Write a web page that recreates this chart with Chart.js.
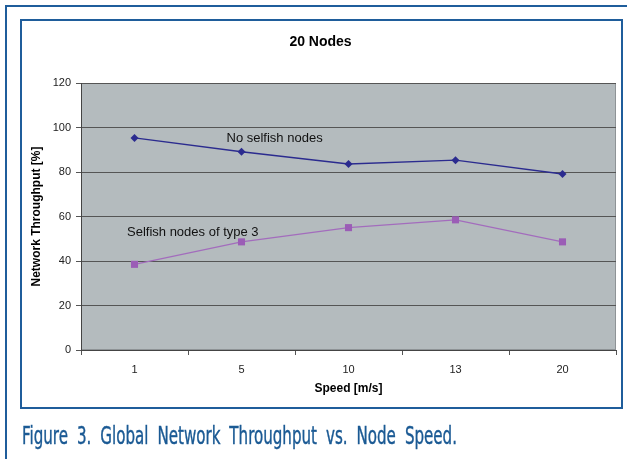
<!DOCTYPE html>
<html>
<head>
<meta charset="utf-8">
<script src="https://cdn.jsdelivr.net/npm/chart.js@4/dist/chart.umd.min.js"></script>
<style>
  html, body { margin: 0; padding: 0; background: #fff; }
  body { width: 627px; height: 459px; position: relative; overflow: hidden; }
  #outer { position: absolute; left: 5px; top: 5px; width: 640px; height: 470px;
           border: 2px solid #1f5d9b; box-sizing: border-box; }
  #inner { position: absolute; left: 20px; top: 19px; width: 603px; height: 390px;
           border: 2px solid #1f5d9b; box-sizing: border-box; }
  #wrap { position: absolute; left: 0; top: 0; width: 627px; height: 459px; }
  #caption { position: absolute; left: 22px; top: 422px; font-family: "Liberation Sans Narrow", "DejaVu Sans Condensed", sans-serif;
             font-size: 24px; line-height: 28px; color: #1b5a94; white-space: nowrap; word-spacing: 6px;
             -webkit-text-stroke: 0.4px #1b5a94; transform-origin: 0 0; }
</style>
</head>
<body>
<div id="outer"></div>
<div id="inner"></div>
<div id="wrap"><canvas id="chart" width="627" height="459"></canvas></div>
<div id="caption">Figure 3. Global Network Throughput vs. Node Speed.</div>
<script>
// Node speeds (m/s) and measured throughput (%) for the 20-node scenario
const speeds = ['1', '5', '10', '13', '20'];
const noSelfish = [95.3, 89.1, 83.6, 85.3, 79.1];
const selfishType3 = [38.5, 48.6, 55.0, 58.5, 48.6];
const yTicks = [0, 20, 40, 60, 80, 100, 120];

const FONT = '"Liberation Sans", Arial, sans-serif';

// Squeeze the caption into its narrow typeface width
(function () {
  const cap = document.getElementById('caption');
  const w = cap.getBoundingClientRect().width;
  cap.style.transform = 'scaleX(' + (435 / w) + ')';
})();

// Gray plot background with a thin frame
const plotBackground = {
  id: 'plotBackground',
  beforeDraw(chart) {
    const { ctx, chartArea: a } = chart;
    ctx.save();
    ctx.fillStyle = '#b4bbbe';
    ctx.fillRect(a.left, a.top, a.right - a.left, a.bottom - a.top);
    ctx.strokeStyle = '#8e9396';
    ctx.lineWidth = 1;
    ctx.strokeRect(a.left + 0.5, a.top + 0.5, a.right - a.left - 1, a.bottom - a.top - 1);
    ctx.restore();
  }
};

// Series names written inside the plot next to their lines
const seriesLabels = {
  id: 'seriesLabels',
  afterDatasetsDraw(chart, args, opts) {
    const { ctx, scales: { x, y } } = chart;
    ctx.save();
    ctx.font = '13px ' + FONT;
    ctx.fillStyle = '#111';
    ctx.textBaseline = 'middle';
    ctx.textAlign = 'left';
    opts.items.forEach(it => {
      ctx.fillText(it.text, x.getPixelForValue(it.at), y.getPixelForValue(it.level));
    });
    ctx.restore();
  }
};

new Chart(document.getElementById('chart'), {
  type: 'line',
  data: {
    labels: speeds,
    datasets: [
      {
        label: 'No selfish nodes',
        data: noSelfish,
        borderColor: '#2b2b8f',
        backgroundColor: '#2b2b8f',
        borderWidth: 1.3,
        pointStyle: 'rectRot',
        pointRadius: 4,
        pointBorderWidth: 0,
        tension: 0
      },
      {
        label: 'Selfish nodes of type 3',
        data: selfishType3,
        borderColor: '#a36cbd',
        backgroundColor: '#9b5db6',
        borderWidth: 1.2,
        pointStyle: 'rect',
        pointRadius: 5,
        pointBorderWidth: 0,
        tension: 0
      }
    ]
  },
  plugins: [plotBackground, seriesLabels],
  options: {
    responsive: false,
    animation: false,
    layout: { padding: { left: 25, right: 11, top: 0, bottom: 59 } },
    plugins: {
      legend: { display: false },
      tooltip: { enabled: false },
      title: {
        display: true,
        text: '20 Nodes',
        color: '#000',
        font: { family: FONT, size: 14, weight: 'bold', lineHeight: 1.2 },
        padding: { top: 33.6, bottom: 32.6 }
      },
      seriesLabels: {
        items: [
          { text: 'No selfish nodes', at: 0.86, level: 95.0 },
          { text: 'Selfish nodes of type 3', at: -0.07, level: 53.0 }
        ]
      }
    },
    scales: {
      x: {
        offset: true,
        afterFit(s) { s.height = 50; },
        grid: { offset: true, drawOnChartArea: false, color: '#555', tickLength: 5, tickColor: '#555' },
        border: { color: '#444', width: 1 },
        ticks: { color: '#222', padding: 8, font: { family: FONT, size: 11 } },
        title: {
          display: true, text: 'Speed [m/s]', color: '#000',
          font: { family: FONT, size: 12, weight: 'bold', lineHeight: 1.2 },
          padding: { top: 4, bottom: 3.8 }
        }
      },
      y: {
        min: 0, max: 120,
        afterFit(s) { s.width = 56; },
        afterBuildTicks(s) { s.ticks = yTicks.map(v => ({ value: v })); },
        grid: { color: '#555', lineWidth: 1, tickLength: 5, tickColor: '#555' },
        border: { color: '#444', width: 1 },
        ticks: { color: '#222', padding: 5, font: { family: FONT, size: 11 } },
        title: {
          display: true, text: 'Network Throughput [%]', color: '#000',
          font: { family: FONT, size: 12, weight: 'bold', lineHeight: 1.2 },
          padding: { top: 4.8, bottom: 0 }
        }
      }
    }
  }
});
</script>
</body>
</html>
